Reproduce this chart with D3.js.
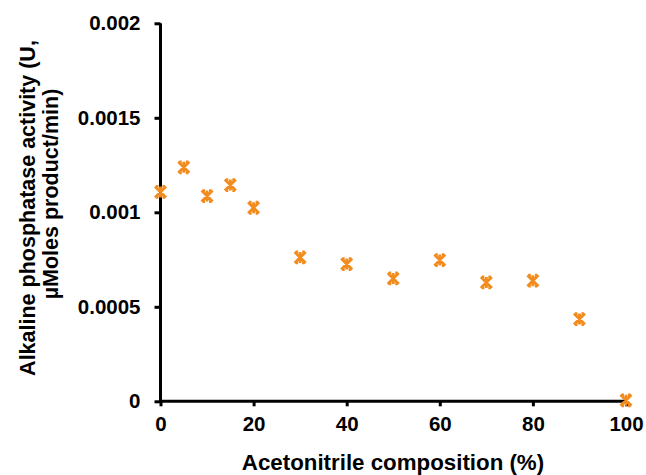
<!DOCTYPE html>
<html><head><meta charset="utf-8">
<script src="https://cdn.jsdelivr.net/npm/d3@7"></script>
<style>body{margin:0;background:#fff}svg{display:block}text{font-family:"Liberation Sans",Arial,sans-serif;font-weight:bold;fill:#000}</style>
</head><body>
<svg id="c" width="646" height="475"></svg>
<script>
const composition = [0, 5, 10, 15, 20, 30, 40, 50, 60, 70, 80, 90, 100];
const activity = [0.001108, 0.001238, 0.001086, 0.001144, 0.001024, 0.000761, 0.000726, 0.00065, 0.000747, 0.000629, 0.000638, 0.000435, 0.000005];
const xTicks = [0, 20, 40, 60, 80, 100];
const yTicks = [0, 0.0005, 0.001, 0.0015, 0.002];
const yTickLabels = ["0", "0.0005", "0.001", "0.0015", "0.002"];

const svg = d3.select("#c");
const x = d3.scaleLinear().domain([0, 100]).range([160.5, 626]);
const y = d3.scaleLinear().domain([0, 0.002]).range([401.3, 23.3]);

const xAxis = svg.append("g").attr("transform", "translate(0,401.3)")
  .call(d3.axisBottom(x).tickValues(xTicks).tickSize(5).tickPadding(10).tickFormat(d3.format("d")));
const yAxis = svg.append("g").attr("transform", "translate(160.5,0)")
  .call(d3.axisLeft(y).tickValues(yTicks).tickSize(6).tickPadding(14).tickFormat((d,i)=>yTickLabels[i]));
[xAxis, yAxis].forEach(g => {
  g.select(".domain").attr("stroke", "#000").attr("stroke-width", 3);
  g.selectAll(".tick line").attr("stroke", "#000").attr("stroke-width", 3);
  g.selectAll(".tick text").attr("font-size", 20.5).attr("font-family", "Liberation Sans, Arial, sans-serif").attr("font-weight", "bold").attr("fill", "#000");
});
xAxis.selectAll(".tick text").attr("dy", "0.72em");
xAxis.select(".domain").attr("d", `M${x.range()[0]-1.5},0H${x.range()[1]}`);
yAxis.select(".domain").attr("d", `M0,${y.range()[0]+1.5}V${y.range()[1]}`);

svg.append("text").attr("x", 393).attr("y", 470).attr("text-anchor", "middle").attr("font-size", 22.3)
  .text("Acetonitrile composition (%)");
svg.append("text").attr("transform", "translate(35,208) rotate(-90)").attr("text-anchor", "middle").attr("font-size", 21.5)
  .text("Alkaline phosphatase activity (U,");
svg.append("text").attr("transform", "translate(58,194) rotate(-90)").attr("text-anchor", "middle").attr("font-size", 21.5)
  .text("µMoles product/min)");

const pts = composition.map((c, i) => ({c, v: activity[i]}));
const s = 5.5;
svg.append("g").selectAll("path").data(pts).join("path")
  .attr("transform", d => `translate(${x(d.c)},${y(d.v)})`)
  .attr("d", `M${-s},${-s}L${s},${s}M${s},${-s}L${-s},${s}M0,${-s}L0,${s}M${-s+1},${-s}H${-s+3.5}M${s-3.5},${-s}H${s-1}M${-s+1},${s}H${-s+3.5}M${s-3.5},${s}H${s-1}`)
  .attr("fill", "none").attr("stroke", "#F28C1E").attr("stroke-width", 2.8).attr("stroke-linecap", "butt");
</script>
</body></html>
